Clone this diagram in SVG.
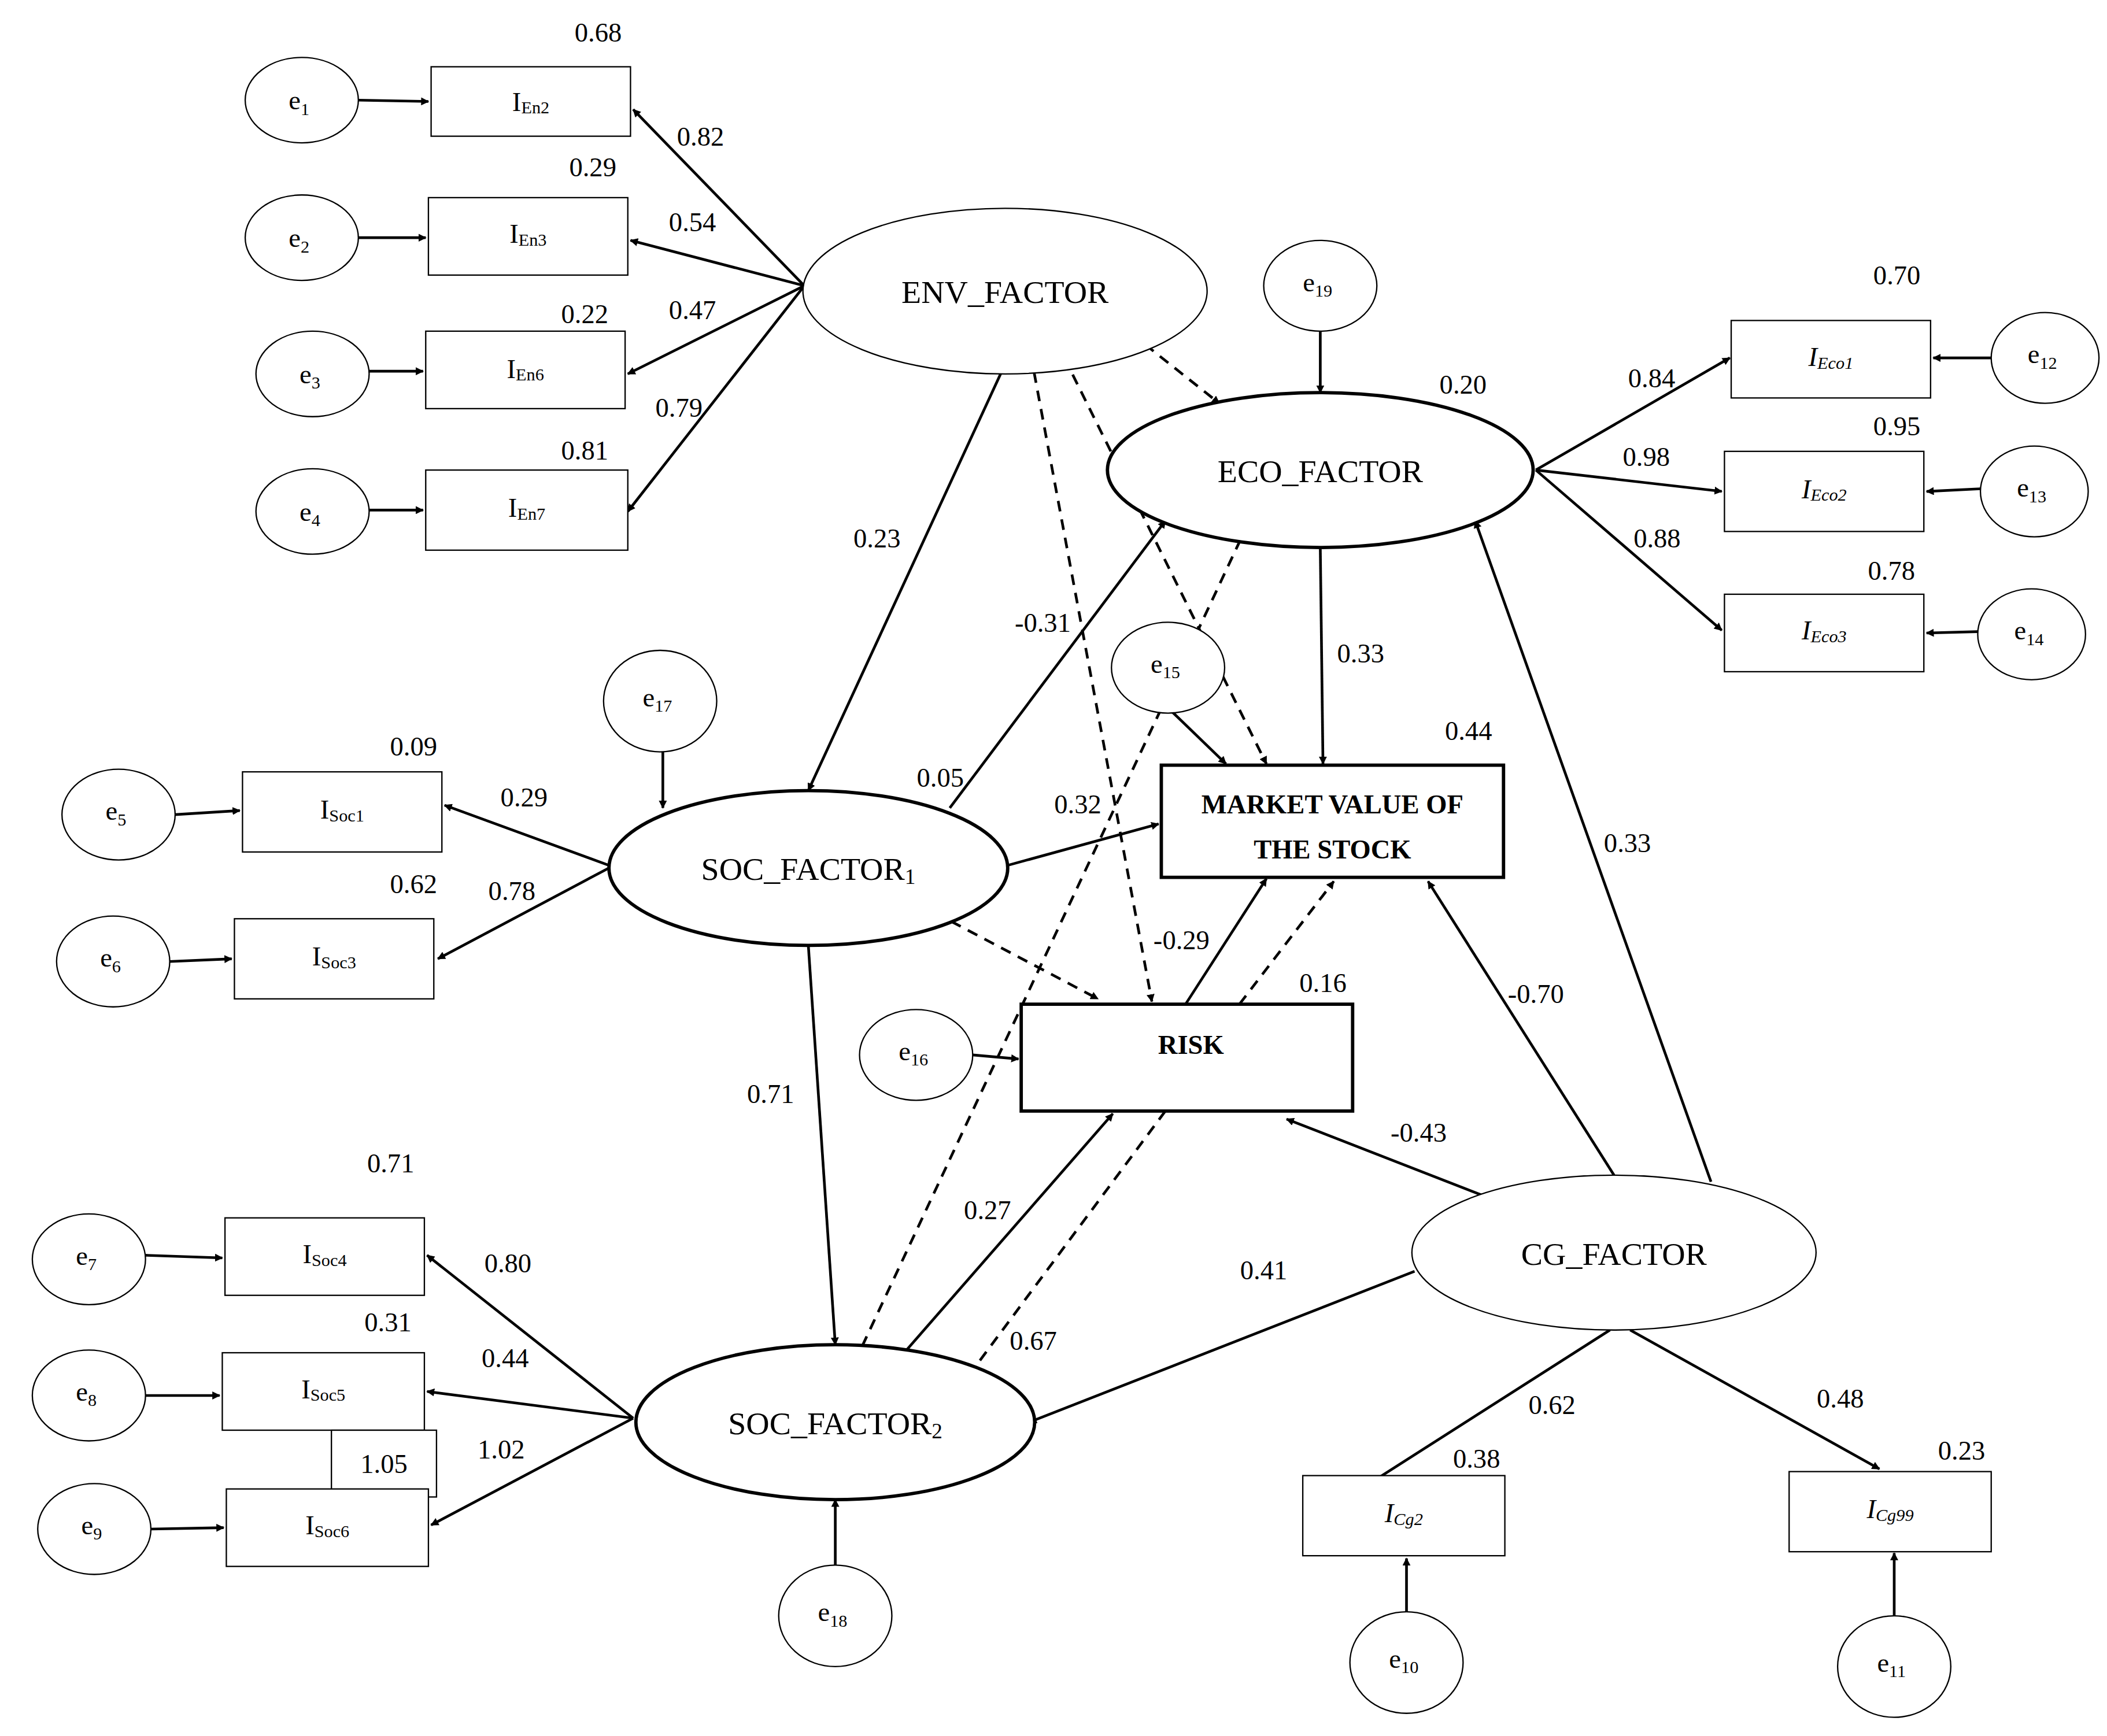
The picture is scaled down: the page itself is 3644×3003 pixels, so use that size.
<svg xmlns="http://www.w3.org/2000/svg" width="3644" height="3003" viewBox="0 0 3644 3003">
<defs>
<marker id="a" viewBox="0 0 10 10" refX="9" refY="5" markerWidth="6" markerHeight="6" orient="auto" markerUnits="userSpaceOnUse"><path d="M0,0 L10,5 L0,10 z" fill="#000"/></marker>
<style>
text{font-family:"Liberation Serif",serif;font-size:20px;fill:#000}
.t{text-anchor:middle}
.s{font-size:13px}
.n{fill:#fff;stroke:#000;stroke-width:1}
.b{fill:#fff;stroke:#000;stroke-width:2.5}
.c line{stroke:#000;stroke-width:2;marker-end:url(#a)}
.c line.d{stroke-dasharray:8,6}
.c line.nm{marker-end:none}
</style>
</defs>
<rect width="3644" height="3003" fill="#fff"/>
<g transform="scale(2.33,2.31)">
<g class="c" id="connectors">
<line x1="266" y1="75" x2="318" y2="76"/><line x1="266" y1="178" x2="316" y2="178"/><line x1="274" y1="278" x2="314" y2="278"/><line x1="274" y1="382" x2="314" y2="382"/>
<line x1="597" y1="214" x2="470" y2="82"/><line x1="597" y1="214" x2="468" y2="180"/><line x1="597" y1="214" x2="466" y2="280"/><line x1="597" y1="214" x2="466" y2="383"/>
<line x1="745" y1="275" x2="600" y2="592"/>
<line class="d" x1="850" y1="258" x2="905" y2="302"/><line class="d" x1="790" y1="268" x2="940" y2="572"/><line class="d" x1="765" y1="265" x2="855" y2="750"/>
<line x1="980" y1="248" x2="980" y2="294"/>
<line x1="1140" y1="352" x2="1284" y2="268"/><line x1="1140" y1="352" x2="1278" y2="368"/><line x1="1140" y1="352" x2="1278" y2="472"/>
<line x1="1478" y1="268" x2="1435" y2="268"/><line x1="1470" y1="366" x2="1430" y2="368"/><line x1="1468" y1="473" x2="1430" y2="474"/>
<line x1="980" y1="410" x2="982" y2="572"/>
<line x1="705" y1="605" x2="865" y2="390"/>
<line class="d" x1="640" y1="1008" x2="925" y2="395"/>
<line x1="870" y1="533" x2="910" y2="572"/>
<line x1="748" y1="648" x2="860" y2="617"/>
<line class="d" x1="706" y1="690" x2="815" y2="748"/>
<line x1="492" y1="563" x2="492" y2="605"/>
<line x1="452" y1="648" x2="330" y2="603"/><line x1="452" y1="650" x2="325" y2="718"/>
<line x1="130" y1="610" x2="178" y2="607"/><line x1="126" y1="720" x2="172" y2="718"/>
<line x1="600" y1="708" x2="620" y2="1007"/>
<line x1="880" y1="752" x2="940" y2="658"/><line class="d" x1="920" y1="752" x2="990" y2="660"/>
<line x1="722" y1="790" x2="756" y2="793"/>
<line x1="1100" y1="895" x2="955" y2="838"/>
<line x1="1198" y1="880" x2="1060" y2="660"/>
<line x1="1270" y1="885" x2="1095" y2="390"/>
<line x1="1050" y1="952" x2="764" y2="1065"/>
<line x1="1195" y1="996" x2="1018" y2="1110"/><line x1="1210" y1="996" x2="1395" y2="1100"/>
<line x1="672" y1="1012" x2="826" y2="834"/><line class="d nm" x1="865" y1="832" x2="725" y2="1022"/>
<line x1="470" y1="1062" x2="317" y2="940"/><line x1="470" y1="1062" x2="317" y2="1042"/><line x1="470" y1="1062" x2="320" y2="1142"/>
<line x1="108" y1="940" x2="165" y2="942"/><line x1="108" y1="1045" x2="163" y2="1045"/><line x1="112" y1="1145" x2="166" y2="1144"/>
<line x1="620" y1="1172" x2="620" y2="1123"/>
<line x1="1044" y1="1208" x2="1044" y2="1167"/><line x1="1406" y1="1210" x2="1406" y2="1163"/>
</g>
<g id="e1"><ellipse class="n" cx="224" cy="75" rx="42" ry="32"/><text class="t" x="222" y="82">e<tspan class="s" dy="4">1</tspan></text></g>
<g id="e2"><ellipse class="n" cx="224" cy="178" rx="42" ry="32"/><text class="t" x="222" y="185">e<tspan class="s" dy="4">2</tspan></text></g>
<g id="e3"><ellipse class="n" cx="232" cy="280" rx="42" ry="32"/><text class="t" x="230" y="287">e<tspan class="s" dy="4">3</tspan></text></g>
<g id="e4"><ellipse class="n" cx="232" cy="383" rx="42" ry="32"/><text class="t" x="230" y="390">e<tspan class="s" dy="4">4</tspan></text></g>
<g id="IEn2"><rect class="n" x="320" y="50" width="148" height="52"/><text class="t" x="394" y="83">I<tspan class="s" dy="2">En2</tspan></text></g>
<g id="IEn3"><rect class="n" x="318" y="148" width="148" height="58"/><text class="t" x="392" y="182">I<tspan class="s" dy="2">En3</tspan></text></g>
<g id="IEn6"><rect class="n" x="316" y="248" width="148" height="58"/><text class="t" x="390" y="283">I<tspan class="s" dy="2">En6</tspan></text></g>
<g id="IEn7"><rect class="n" x="316" y="352" width="150" height="60"/><text class="t" x="391" y="387">I<tspan class="s" dy="2">En7</tspan></text></g>
<g id="ENV"><ellipse class="n" cx="746" cy="218" rx="150" ry="62"/><text class="t" x="746" y="227" style="font-size:24px">ENV_FACTOR</text></g>
<g id="e19"><ellipse class="n" cx="980" cy="214" rx="42" ry="34"/><text class="t" x="978" y="218">e<tspan class="s" dy="4">19</tspan></text></g>
<g id="ECO"><ellipse class="b" cx="980" cy="352" rx="158" ry="58"/><text class="t" x="980" y="361" style="font-size:24px">ECO_FACTOR</text></g>
<g id="IEco1"><rect class="n" x="1285" y="240" width="148" height="58"/><text class="t" x="1359" y="274" font-style="italic">I<tspan class="s" dy="2">Eco1</tspan></text></g>
<g id="IEco2"><rect class="n" x="1280" y="338" width="148" height="60"/><text class="t" x="1354" y="373" font-style="italic">I<tspan class="s" dy="2">Eco2</tspan></text></g>
<g id="IEco3"><rect class="n" x="1280" y="445" width="148" height="58"/><text class="t" x="1354" y="479" font-style="italic">I<tspan class="s" dy="2">Eco3</tspan></text></g>
<g id="e12"><ellipse class="n" cx="1518" cy="268" rx="40" ry="34"/><text class="t" x="1516" y="272">e<tspan class="s" dy="4">12</tspan></text></g>
<g id="e13"><ellipse class="n" cx="1510" cy="368" rx="40" ry="34"/><text class="t" x="1508" y="372">e<tspan class="s" dy="4">13</tspan></text></g>
<g id="e14"><ellipse class="n" cx="1508" cy="475" rx="40" ry="34"/><text class="t" x="1506" y="479">e<tspan class="s" dy="4">14</tspan></text></g>
<g id="e15"><ellipse class="n" cx="867" cy="500" rx="42" ry="34"/><text class="t" x="865" y="504">e<tspan class="s" dy="4">15</tspan></text></g>
<g id="MARKET"><rect class="b" x="862" y="573" width="254" height="84"/><text class="t" x="989" y="609" font-weight="bold">MARKET VALUE OF</text><text class="t" x="989" y="643" font-weight="bold">THE STOCK</text></g>
<g id="e17"><ellipse class="n" cx="490" cy="525" rx="42" ry="38"/><text class="t" x="488" y="529">e<tspan class="s" dy="4">17</tspan></text></g>
<g id="SOC1"><ellipse class="b" cx="600" cy="650" rx="148" ry="58"/><text class="t" x="600" y="659" style="font-size:24px">SOC_FACTOR<tspan style="font-size:16px" dy="3">1</tspan></text></g>
<g id="ISoc1"><rect class="n" x="180" y="578" width="148" height="60"/><text class="t" x="254" y="613">I<tspan class="s" dy="2">Soc1</tspan></text></g>
<g id="ISoc3"><rect class="n" x="174" y="688" width="148" height="60"/><text class="t" x="248" y="723">I<tspan class="s" dy="2">Soc3</tspan></text></g>
<g id="e5"><ellipse class="n" cx="88" cy="610" rx="42" ry="34"/><text class="t" x="86" y="614">e<tspan class="s" dy="4">5</tspan></text></g>
<g id="e6"><ellipse class="n" cx="84" cy="720" rx="42" ry="34"/><text class="t" x="82" y="724">e<tspan class="s" dy="4">6</tspan></text></g>
<g id="RISK"><rect class="b" x="758" y="752" width="246" height="80"/><text class="t" x="884" y="789" font-weight="bold">RISK</text></g>
<g id="e16"><ellipse class="n" cx="680" cy="790" rx="42" ry="34"/><text class="t" x="678" y="794">e<tspan class="s" dy="4">16</tspan></text></g>
<g id="CG"><ellipse class="n" cx="1198" cy="938" rx="150" ry="58"/><text class="t" x="1198" y="947" style="font-size:24px">CG_FACTOR</text></g>
<g id="SOC2"><ellipse class="b" cx="620" cy="1065" rx="148" ry="58"/><text class="t" x="620" y="1074" style="font-size:24px">SOC_FACTOR<tspan style="font-size:16px" dy="3">2</tspan></text></g>
<g id="ISoc4"><rect class="n" x="167" y="912" width="148" height="58"/><text class="t" x="241" y="946">I<tspan class="s" dy="2">Soc4</tspan></text></g>
<g id="ISoc5"><rect class="n" x="165" y="1013" width="150" height="58"/><text class="t" x="240" y="1047">I<tspan class="s" dy="2">Soc5</tspan></text></g>
<g id="c105"><rect class="n" x="246" y="1071" width="78" height="50"/><text class="t" x="285" y="1103">1.05</text></g>
<g id="ISoc6"><rect class="n" x="168" y="1115" width="150" height="58"/><text class="t" x="243" y="1149">I<tspan class="s" dy="2">Soc6</tspan></text></g>
<g id="e7"><ellipse class="n" cx="66" cy="943" rx="42" ry="34"/><text class="t" x="64" y="947">e<tspan class="s" dy="4">7</tspan></text></g>
<g id="e8"><ellipse class="n" cx="66" cy="1045" rx="42" ry="34"/><text class="t" x="64" y="1049">e<tspan class="s" dy="4">8</tspan></text></g>
<g id="e9"><ellipse class="n" cx="70" cy="1145" rx="42" ry="34"/><text class="t" x="68" y="1149">e<tspan class="s" dy="4">9</tspan></text></g>
<g id="e18"><ellipse class="n" cx="620" cy="1210" rx="42" ry="38"/><text class="t" x="618" y="1214">e<tspan class="s" dy="4">18</tspan></text></g>
<g id="ICg2"><rect class="n" x="967" y="1105" width="150" height="60"/><text class="t" x="1042" y="1140" font-style="italic">I<tspan class="s" dy="2">Cg2</tspan></text></g>
<g id="ICg99"><rect class="n" x="1328" y="1102" width="150" height="60"/><text class="t" x="1403" y="1137" font-style="italic">I<tspan class="s" dy="2">Cg99</tspan></text></g>
<g id="e10"><ellipse class="n" cx="1044" cy="1245" rx="42" ry="38"/><text class="t" x="1042" y="1249">e<tspan class="s" dy="4">10</tspan></text></g>
<g id="e11"><ellipse class="n" cx="1406" cy="1248" rx="42" ry="38"/><text class="t" x="1404" y="1252">e<tspan class="s" dy="4">11</tspan></text></g>
<g id="labels" class="t">
<text x="444" y="31">0.68</text><text x="520" y="109">0.82</text><text x="440" y="132">0.29</text><text x="514" y="173">0.54</text><text x="434" y="242">0.22</text><text x="514" y="239">0.47</text><text x="504" y="312">0.79</text><text x="434" y="344">0.81</text><text x="651" y="410">0.23</text><text x="1408" y="213">0.70</text><text x="1086" y="295">0.20</text><text x="1226" y="290">0.84</text><text x="1408" y="326">0.95</text><text x="1222" y="349">0.98</text><text x="1230" y="410">0.88</text><text x="1404" y="434">0.78</text><text x="774" y="473">-0.31</text><text x="1010" y="496">0.33</text><text x="1090" y="554">0.44</text><text x="307" y="566">0.09</text><text x="389" y="604">0.29</text><text x="698" y="589">0.05</text><text x="800" y="609">0.32</text><text x="307" y="669">0.62</text><text x="380" y="674">0.78</text><text x="877" y="711">-0.29</text><text x="982" y="743">0.16</text><text x="1140" y="751">-0.70</text><text x="1208" y="638">0.33</text><text x="572" y="826">0.71</text><text x="1053" y="855">-0.43</text><text x="290" y="878">0.71</text><text x="377" y="953">0.80</text><text x="733" y="913">0.27</text><text x="938" y="958">0.41</text><text x="288" y="997">0.31</text><text x="375" y="1024">0.44</text><text x="767" y="1011">0.67</text><text x="372" y="1092">1.02</text><text x="1152" y="1059">0.62</text><text x="1366" y="1054">0.48</text><text x="1096" y="1099">0.38</text><text x="1456" y="1093">0.23</text>
</g>
</g>
</svg>
